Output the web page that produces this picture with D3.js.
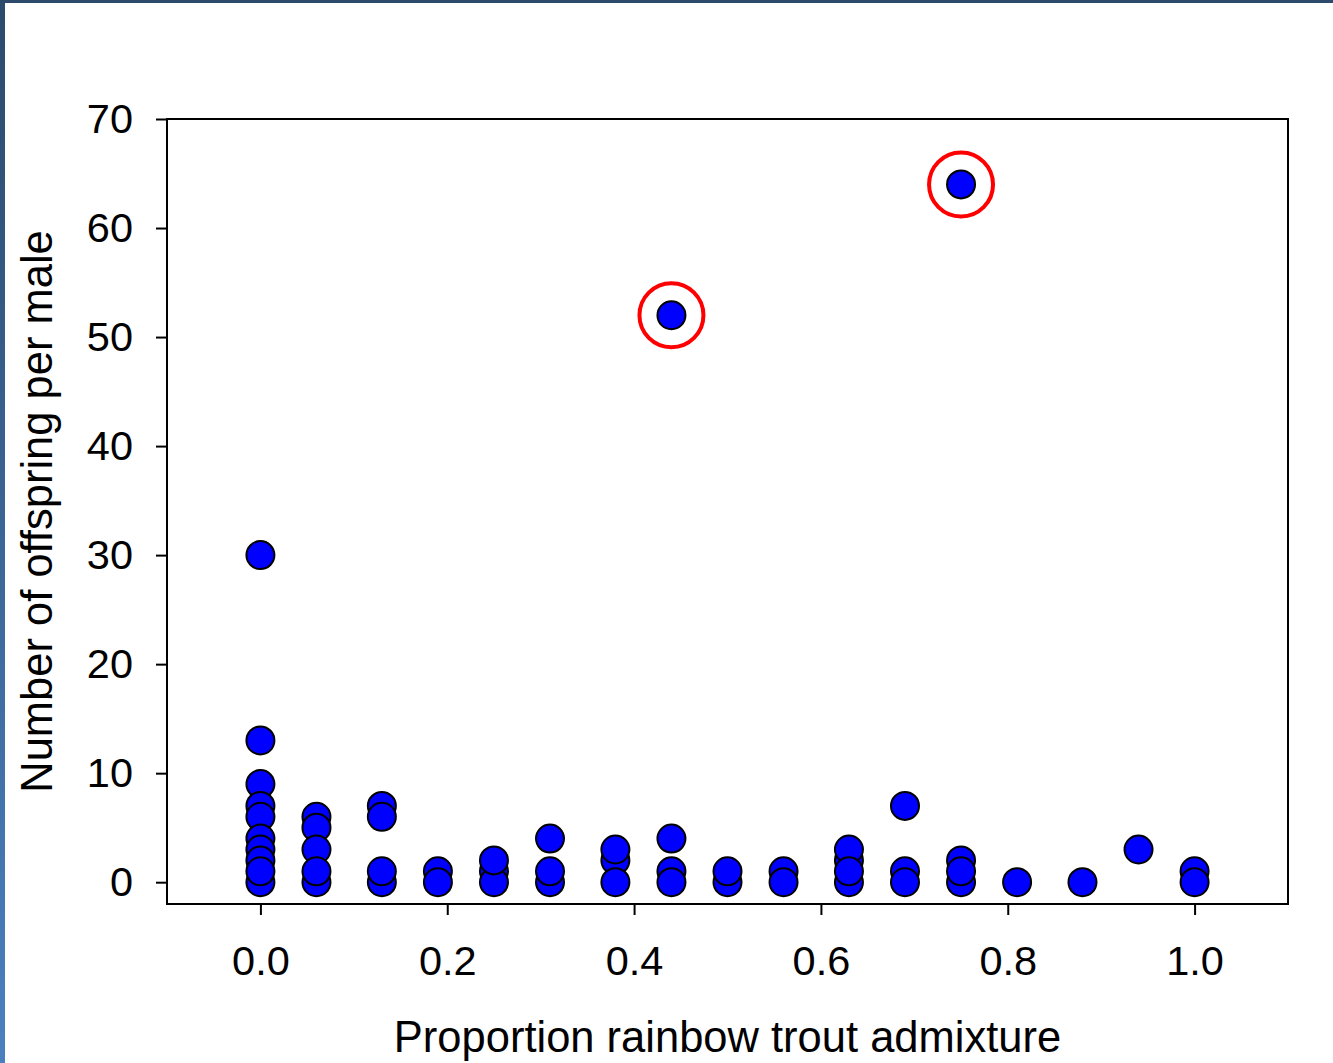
<!DOCTYPE html>
<html>
<head>
<meta charset="utf-8">
<script src="https://cdn.jsdelivr.net/npm/d3@7"></script>
<style>
  body { margin: 0; background: #fff; }
  svg { display: block; }
  text { font-family: "Liberation Sans", Arial, sans-serif; fill: #000; }
</style>
</head>
<body>
<div id="chart"></div>
<script>
// data (draw order kept so overlaps look the same)
const admixture = [
  0, 0, 0, 0, 0, 0, 0, 0, 0, 0,
  0.06, 0.06, 0.06, 0.06, 0.06,
  0.13, 0.13, 0.13, 0.13,
  0.19, 0.19,
  0.25, 0.25, 0.25,
  0.31, 0.31, 0.31,
  0.38, 0.38, 0.38,
  0.44, 0.44, 0.44, 0.44,
  0.50, 0.50,
  0.56, 0.56,
  0.63, 0.63, 0.63, 0.63,
  0.69, 0.69, 0.69,
  0.75, 0.75, 0.75, 0.75,
  0.81,
  0.88,
  0.94,
  1.0, 1.0
];
const offspring = [
  30, 13, 9, 7, 6, 4, 3, 2, 0, 1,
  6, 5, 3, 0, 1,
  7, 6, 0, 1,
  1, 0,
  1, 0, 2,
  4, 0, 1,
  2, 3, 0,
  52, 4, 1, 0,
  0, 1,
  1, 0,
  2, 3, 0, 1,
  7, 1, 0,
  64, 2, 0, 1,
  0,
  0,
  3,
  1, 0
];
// the two males circled in red
const circledX = [0.44, 0.75];
const circledY = [52, 64];

const xTicks = [0, 0.2, 0.4, 0.6, 0.8, 1.0];
const yTicks = [0, 10, 20, 30, 40, 50, 60, 70];
const xLabel = "Proportion rainbow trout admixture";
const yLabel = "Number of offspring per male";

const W = 1333, H = 1063;
const plot = { left: 167, right: 1288, top: 119, bottom: 904 };

const svg = d3.select("#chart").append("svg")
    .attr("width", W)
    .attr("height", H);

// slide frame: gradient strip on the left, dark strip on top
const grad = svg.append("defs").append("linearGradient")
    .attr("id", "edge")
    .attr("x1", 0).attr("y1", 0).attr("x2", 0).attr("y2", 1);
grad.append("stop").attr("offset", "0%").attr("stop-color", "#2c4a6c");
grad.append("stop").attr("offset", "100%").attr("stop-color", "#4a80c0");

svg.append("rect").attr("width", W).attr("height", H).attr("fill", "#fff");
svg.append("rect").attr("x", 0).attr("y", 0).attr("width", 5).attr("height", H)
    .attr("fill", "url(#edge)");
svg.append("rect").attr("x", 0).attr("y", 0).attr("width", W).attr("height", 3)
    .attr("fill", "#2c4a6b");

const x = d3.scaleLinear()
    .domain([-0.1, 1.1])
    .range([plot.left, plot.right]);

const y = d3.scaleLinear()
    .domain([-2, 70])
    .range([plot.bottom, plot.top]);

// axes
const xAxis = d3.axisBottom(x)
    .tickValues(xTicks)
    .tickSize(11)
    .tickSizeOuter(0)
    .tickPadding(31)
    .tickFormat(d3.format(".1f"));

const yAxis = d3.axisLeft(y)
    .tickValues(yTicks)
    .tickSize(11)
    .tickSizeOuter(0)
    .tickPadding(23)
    .tickFormat(d3.format("d"));

const gx = svg.append("g")
    .attr("transform", `translate(0, ${plot.bottom})`)
    .call(xAxis);

const gy = svg.append("g")
    .attr("transform", `translate(${plot.left}, 0)`)
    .call(yAxis);

[gx, gy].forEach(g => {
    g.select(".domain").remove();
    g.selectAll(".tick line").attr("stroke", "#000").attr("stroke-width", 2);
    g.selectAll(".tick text")
        .style("font-size", "41.5px")
        .style("font-family", "'Liberation Sans', Arial, sans-serif")
        .attr("fill", "#000");
});

// plot frame
svg.append("rect")
    .attr("x", plot.left)
    .attr("y", plot.top)
    .attr("width", plot.right - plot.left)
    .attr("height", plot.bottom - plot.top)
    .attr("fill", "none")
    .attr("stroke", "#000")
    .attr("stroke-width", 2);

// points
svg.append("g")
    .selectAll("circle")
    .data(d3.range(admixture.length))
    .enter()
    .append("circle")
    .attr("cx", i => x(admixture[i]))
    .attr("cy", i => y(offspring[i]))
    .attr("r", 14)
    .attr("fill", "#0000ff")
    .attr("stroke", "#000")
    .attr("stroke-width", 2);

// red rings round the outliers
svg.append("g")
    .selectAll("circle")
    .data(d3.range(circledX.length))
    .enter()
    .append("circle")
    .attr("cx", i => x(circledX[i]))
    .attr("cy", i => y(circledY[i]))
    .attr("r", 32)
    .attr("fill", "none")
    .attr("stroke", "#ff0000")
    .attr("stroke-width", 4);

// axis titles
svg.append("text")
    .attr("x", (plot.left + plot.right) / 2)
    .attr("y", 1052)
    .attr("text-anchor", "middle")
    .style("font-size", "43.5px")
    .text(xLabel);

svg.append("text")
    .attr("transform", `translate(52, ${(plot.top + plot.bottom) / 2}) rotate(-90)`)
    .attr("text-anchor", "middle")
    .style("font-size", "43.5px")
    .text(yLabel);
</script>
</body>
</html>
